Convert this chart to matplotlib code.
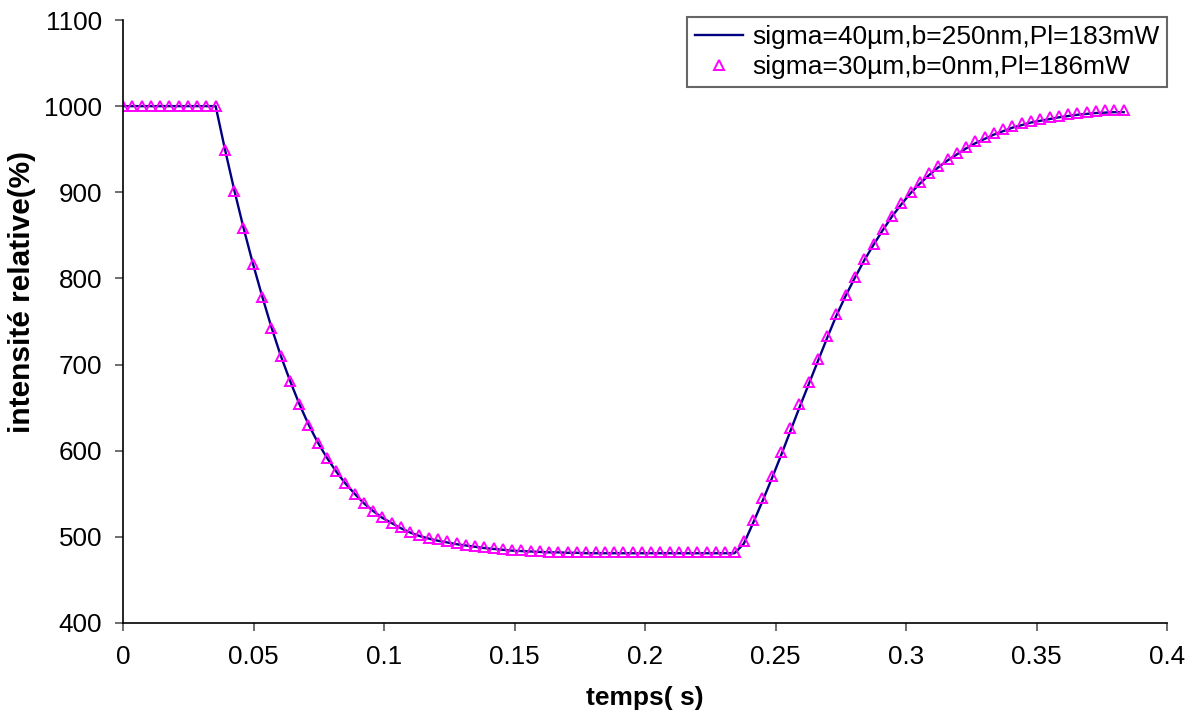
import numpy as np
import matplotlib
matplotlib.use("Agg")
import matplotlib.pyplot as plt
from matplotlib.ticker import FuncFormatter

plt.rcParams['font.family'] = ['Liberation Sans', 'DejaVu Sans']

# sampling grid (s)
n_points = 109
dt = 0.00355
time = np.round(np.arange(n_points) * dt, 5)

# sigma=30µm, b=0nm, Pl=186mW (markers)
markers_y = [
    1000, 1000, 1000, 1000, 1000, 1000, 1000, 1000, 1000, 1000, 1000,
    949, 902, 858, 817, 779, 743, 710, 681, 654, 630,
    609, 592, 576, 562, 550, 539, 530, 523, 516, 511,
    506, 502, 499, 497, 495, 493, 491, 489.5, 488, 487,
    486, 485, 484.5, 484, 483.5, 483,
    483, 482.5, 482, 482, 482, 482, 482, 482, 482, 482,
    482, 482, 482, 482, 482, 482, 482, 482, 482, 482,
    495, 520, 545, 571, 598, 626, 654, 680, 707, 733,
    759, 781, 802, 822, 840, 857, 873, 887, 900, 912,
    922, 931, 939, 946, 953, 959, 964, 969, 973, 977,
    980, 983, 985, 987, 989, 991, 992, 993, 994, 995,
    996, 996,
]

# sigma=40µm, b=250nm, Pl=183mW (line)
line_y = [
    1000, 1000, 1000, 1000, 1000, 1000, 1000, 1000, 1000, 1000, 1000,
    950, 903, 859, 818, 780, 744, 711, 682, 655, 631,
    610, 592, 576, 562, 550, 539, 530, 522, 516, 510,
    505, 501, 498, 495.5, 493.5, 491.5, 490, 488.5, 487, 486,
    485, 484, 483.5, 483, 482.5, 482,
    482, 481.5, 481.5, 481, 481, 481, 481, 481, 481, 481,
    481, 481, 481, 481, 481, 481, 481, 481, 481, 481,
    492, 516, 541, 567, 594, 622, 650, 677, 704, 731,
    757, 780, 801, 821, 839, 856, 872, 886, 899, 910,
    920, 929, 937, 944, 951, 957, 962, 967, 971, 975,
    978, 981, 983, 985, 987, 988.5, 990, 991, 992, 992.5,
    993, 993,
]

x_ticks = [0, 0.05, 0.1, 0.15, 0.2, 0.25, 0.3, 0.35, 0.4]
y_ticks = [400, 500, 600, 700, 800, 900, 1000, 1100]

label_line = "sigma=40µm,b=250nm,Pl=183mW"
label_markers = "sigma=30µm,b=0nm,Pl=186mW"

fig = plt.figure(figsize=(11.96, 7.18), dpi=100)
ax = fig.add_axes([123/1196, 1 - 623/718, (1167-123)/1196, (623-20)/718])

ax.plot(time, line_y, color='#000080', lw=1.7, label=label_line, zorder=2)
ax.plot(time, markers_y, linestyle='none', marker='^', markersize=7.5,
        markerfacecolor='none', markeredgecolor='#FF00FF', markeredgewidth=1.4,
        label=label_markers, zorder=3)

ax.set_xlim(0, 0.4)
ax.set_ylim(400, 1100)
ax.set_xticks(x_ticks)
ax.set_yticks(y_ticks)
ax.xaxis.set_major_formatter(FuncFormatter(lambda v, p: ('%g' % round(v, 3))))

for s in ['top', 'right']:
    ax.spines[s].set_visible(False)
for s in ['left', 'bottom']:
    ax.spines[s].set_color('black')
    ax.spines[s].set_linewidth(1.2)
    ax.spines[s].set_zorder(5)

ax.tick_params(axis='both', direction='out', length=6, width=1.2,
               color='#555555', labelsize=18.7, labelcolor='black')
ax.tick_params(axis='x', pad=10)
ax.tick_params(axis='y', pad=9)

ax.set_xlabel('temps( s)', fontsize=19, fontweight='bold', labelpad=12)
ax.set_ylabel('intensité relative(%)', fontsize=21.5, fontweight='bold')
ax.yaxis.set_label_coords((36 - 123) / 1044, (623 - 292) / 603)

leg = ax.legend(loc='upper right', bbox_to_anchor=(1.0, 1.005), fontsize=19,
                frameon=True, fancybox=False, framealpha=1, edgecolor='#666666',
                handlelength=1.8, handletextpad=0.35, borderpad=0.3,
                labelspacing=0.25, borderaxespad=0.0)
leg.get_frame().set_linewidth(1.5)

fig.savefig('out.png', dpi=100)
